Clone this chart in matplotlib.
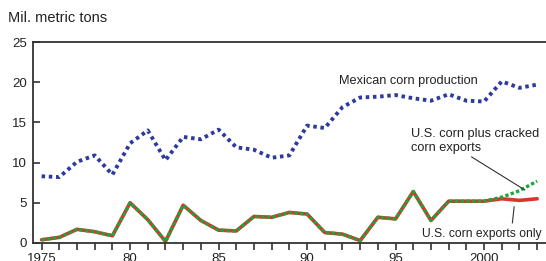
import matplotlib.pyplot as plt
import numpy as np

plt.rcParams['font.family'] = ['Liberation Sans', 'DejaVu Sans']

years = list(range(1975, 2004))

# Mexican corn production, mil. metric tons
mexico = [8.3, 8.2, 10.1, 10.9, 8.5, 12.4, 14.0, 10.3, 13.2, 12.9,
          14.1, 11.9, 11.6, 10.6, 10.9, 14.6, 14.3, 16.9, 18.1, 18.2,
          18.4, 18.0, 17.7, 18.5, 17.7, 17.6, 20.1, 19.3, 19.7]

# U.S. corn exports to Mexico
us_only = [0.4, 0.7, 1.7, 1.4, 0.9, 5.0, 2.9, 0.2, 4.7, 2.8,
           1.6, 1.5, 3.3, 3.2, 3.8, 3.6, 1.3, 1.1, 0.3, 3.2,
           3.0, 6.4, 2.8, 5.2, 5.2, 5.2, 5.5, 5.3, 5.5]

# corn plus cracked corn, differs only at the end
us_plus = us_only[:-3] + [5.7, 6.5, 7.7]

fig = plt.figure(figsize=(5.46, 2.61), dpi=100)
ax = fig.add_axes([0.060, 0.069, 0.94, 0.770])

ax.plot(years, mexico, color='#2f3b9c', lw=2.8, ls=(0, (0.9, 0.95)),
        dash_capstyle='butt')
ax.plot(years, us_only, color='#d9352b', lw=2.6, solid_capstyle='round')
ax.plot(years, us_plus, color='#1aa63a', lw=2.4, ls=(0, (1.0, 0.7)),
        dash_capstyle='butt')

ax.set_xlim(1974.5, 2003.5)
ax.set_ylim(0, 25)
ax.set_yticks([0, 5, 10, 15, 20, 25])
ax.set_xticks(years)
xlabels = ['' for y in years]
for y, s in [(1975, '1975'), (1980, '80'), (1985, '85'), (1990, '90'),
             (1995, '95'), (2000, '2000')]:
    xlabels[years.index(y)] = s
ax.set_xticklabels(xlabels)

ax.spines['right'].set_visible(False)
for s in ['left', 'bottom', 'top']:
    ax.spines[s].set_linewidth(1.3)
    ax.spines[s].set_color('#333333')
ax.tick_params(axis='y', direction='in', length=5, width=1.2, labelsize=9.5,
               pad=4, colors='#333333', labelcolor='#222222')
ax.tick_params(axis='x', direction='out', length=5, width=1.2, labelsize=9.5,
               pad=2, colors='#333333', labelcolor='#222222')

fig.text(0.014, 0.93, 'Mil. metric tons', fontsize=10.5, color='#222222',
         va='center', ha='left')

ax.text(1995.7, 20.2, 'Mexican corn production', fontsize=9.2,
        color='#222222', ha='center', va='center')
ax.text(1995.9, 12.7, 'U.S. corn plus cracked\ncorn exports', fontsize=9.2,
        color='#222222', ha='left', va='center', linespacing=1.2)
ax.plot([1999.3, 2002.3], [10.7, 6.6], color='#333333', lw=0.8)
ax.text(1996.5, 1.1, 'U.S. corn exports only', fontsize=8.7,
        color='#222222', ha='left', va='center')
ax.plot([2001.7, 2001.6], [4.5, 2.5], color='#333333', lw=0.8)

fig.savefig('out.png', dpi=100)
